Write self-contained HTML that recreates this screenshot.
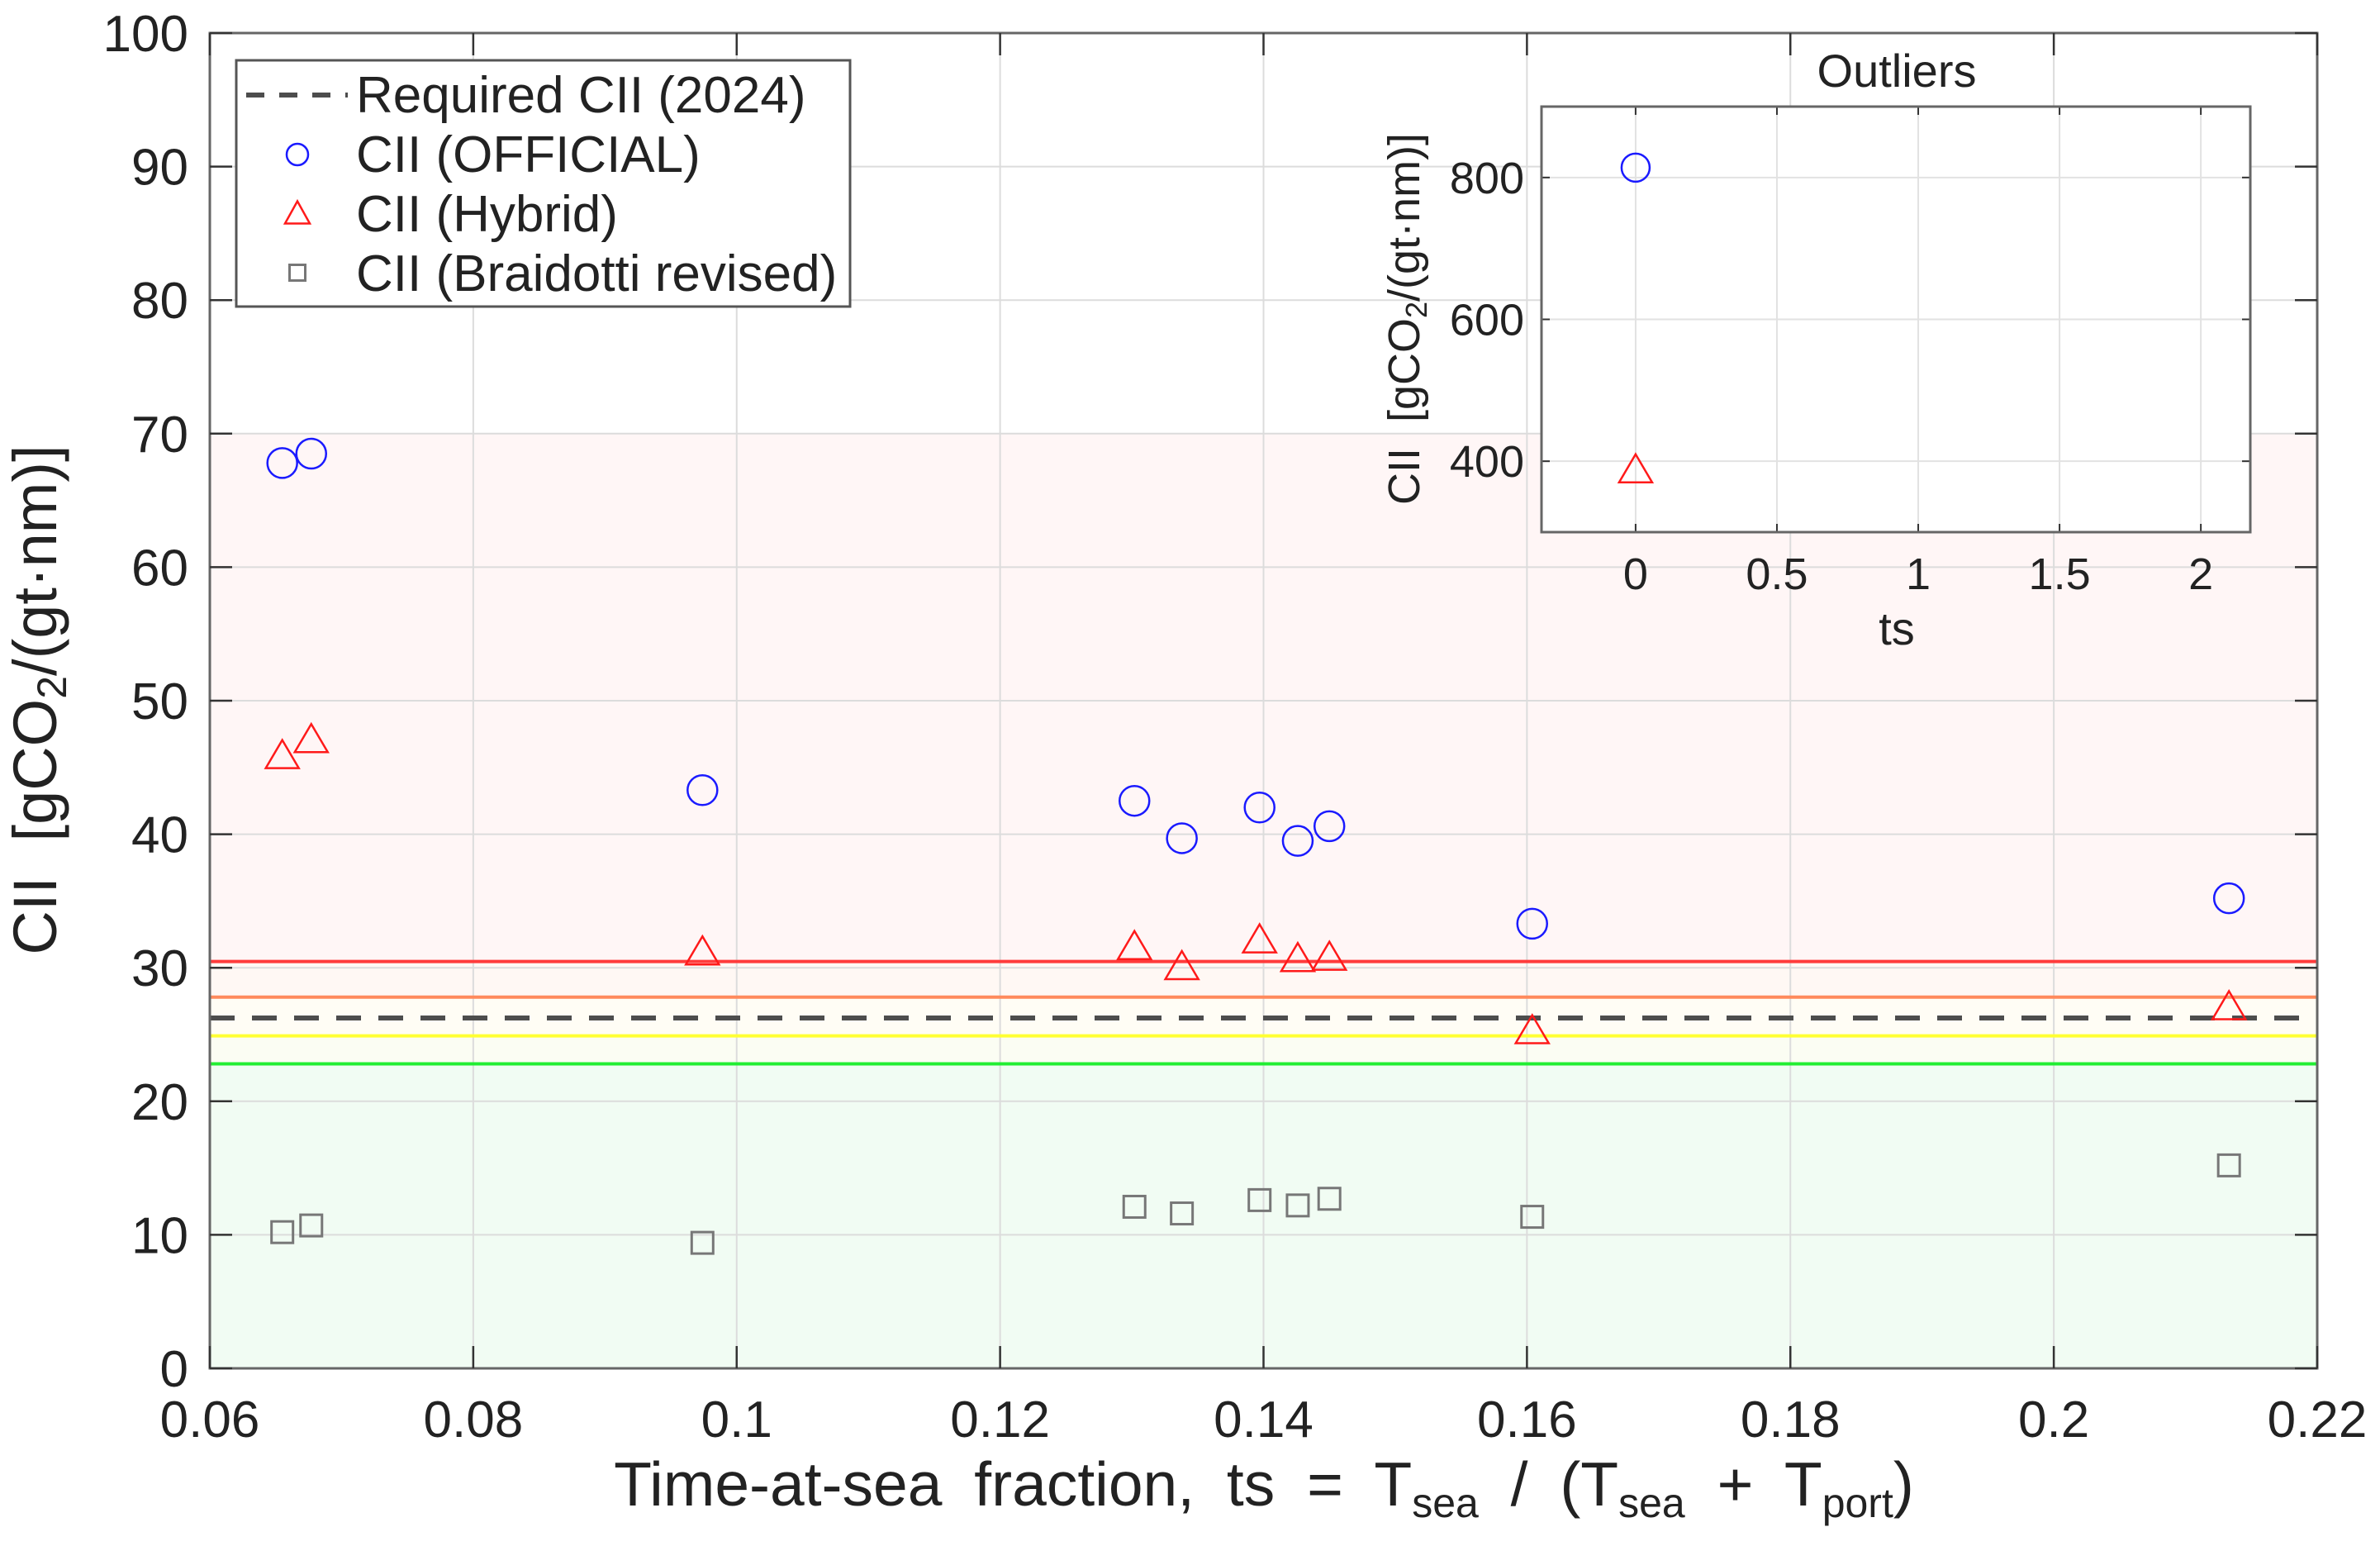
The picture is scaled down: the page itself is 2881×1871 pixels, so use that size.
<!DOCTYPE html>
<html><head><meta charset="utf-8">
<style>
html,body{margin:0;padding:0;background:#fff;}
svg{display:block;font-family:"Liberation Sans",Arial,sans-serif;}
</style></head>
<body>
<svg id="chart" width="2881" height="1871" viewBox="0 0 2881 1871" xmlns="http://www.w3.org/2000/svg">
<rect width="2881" height="1871" fill="#fff"/>
<g id="main"></g>
<g id="inset"></g>
</svg>
<script>
// ---- Main chart data ----
const tsValues = [0.0655, 0.0677, 0.0974, 0.1302, 0.1338, 0.1397, 0.1426, 0.1450, 0.1604, 0.2133];
const ciiOfficial = [67.8, 68.5, 43.3, 42.5, 39.7, 42.0, 39.5, 40.6, 33.3, 35.2];
const ciiHybrid = [46.0, 47.2, 31.3, 31.7, 30.2, 32.2, 30.8, 30.9, 25.4, 27.2];
const ciiBraidotti = [10.2, 10.7, 9.4, 12.1, 11.6, 12.6, 12.2, 12.7, 11.35, 15.2];
const ratingBoundaries = [22.8, 24.9, 27.8, 30.47];
const requiredCII = 26.24;
const xTicks = [0.06, 0.08, 0.1, 0.12, 0.14, 0.16, 0.18, 0.2, 0.22];
const xTickLabels = ["0.06","0.08","0.1","0.12","0.14","0.16","0.18","0.2","0.22"];
const yTicks = [0,10,20,30,40,50,60,70,80,90,100];
const yTickLabels = ["0","10","20","30","40","50","60","70","80","90","100"];
// ---- Inset data ----
const outlierTs = [0];
const outlierOfficial = [814];
const outlierHybrid = [390];
const insetXTicks = [0, 0.5, 1, 1.5, 2];
const insetXTickLabels = ["0","0.5","1","1.5","2"];
const insetYTicks = [400, 600, 800];
const insetYTickLabels = ["400","600","800"];

const NS = "http://www.w3.org/2000/svg";
function mk(parent, tag, attrs, text){
  const e = document.createElementNS(NS, tag);
  for (const k in attrs) e.setAttribute(k, attrs[k]);
  if (text !== undefined) e.textContent = text;
  parent.appendChild(e);
  return e;
}

// main axes
const L=254, R=2805, T=40, B=1656;
const X0=0.06, X1=0.22, Y0=0, Y1=100;
const sx = v => L + (v-X0)/(X1-X0)*(R-L);
const sy = v => B - (v-Y0)/(Y1-Y0)*(B-T);
const main = document.getElementById('main');

// zone fills
let z;
z = mk(main,'rect',{x:L,y:sy(70),width:R-L,height:sy(ratingBoundaries[3])-sy(70),fill:'#fff6f6'});
 
z = mk(main,'rect',{x:L,y:sy(ratingBoundaries[3]),width:R-L,height:sy(ratingBoundaries[2])-sy(ratingBoundaries[3]),fill:'#fff8f4'});
 
z = mk(main,'rect',{x:L,y:sy(ratingBoundaries[2]),width:R-L,height:sy(ratingBoundaries[1])-sy(ratingBoundaries[2]),fill:'#fffdf5'});
 
z = mk(main,'rect',{x:L,y:sy(ratingBoundaries[1]),width:R-L,height:sy(ratingBoundaries[0])-sy(ratingBoundaries[1]),fill:'#fbfdf3'});
 
z = mk(main,'rect',{x:L,y:sy(ratingBoundaries[0]),width:R-L,height:B-sy(ratingBoundaries[0]),fill:'#f1fcf3'});
 

// grid
xTicks.forEach((v,i)=>{
  const g = mk(main,'line',{x1:sx(v),x2:sx(v),y1:T,y2:B,stroke:'#dcdcdc','stroke-width':2});
   
});
yTicks.forEach((v,i)=>{
  const g = mk(main,'line',{x1:L,x2:R,y1:sy(v),y2:sy(v),stroke:'#dcdcdc','stroke-width':2});
   
});

// rating lines
const lineColors = ['#22ee33','#ffff33','#ff8a5c','#ff3b3b'];
const lineNames = ['boundary-a-b','boundary-b-c','boundary-c-d','boundary-d-e'];
ratingBoundaries.forEach((v,i)=>{
  const l = mk(main,'line',{x1:L,x2:R,y1:sy(v),y2:sy(v),stroke:lineColors[i],'stroke-width':4});
   
});
const req = mk(main,'line',{x1:L,x2:R,y1:sy(requiredCII),y2:sy(requiredCII),stroke:'#4d4d4d','stroke-width':6,'stroke-dasharray':'30 21'});
 

// axis box & ticks
const box = mk(main,'rect',{x:L,y:T,width:R-L,height:B-T,fill:'none',stroke:'#666','stroke-width':3});
 
xTicks.forEach((v,i)=>{
  const t1 = mk(main,'line',{x1:sx(v),x2:sx(v),y1:B,y2:B-27,stroke:'#333','stroke-width':2.5});
   
  const t2 = mk(main,'line',{x1:sx(v),x2:sx(v),y1:T,y2:T+27,stroke:'#333','stroke-width':2.5});
   
  const lb = mk(main,'text',{x:sx(v),y:B+83,'font-size':62,'text-anchor':'middle',fill:'#222'},xTickLabels[i]);
   
});
yTicks.forEach((v,i)=>{
  const t1 = mk(main,'line',{x1:L,x2:L+27,y1:sy(v),y2:sy(v),stroke:'#333','stroke-width':2.5});
   
  const t2 = mk(main,'line',{x1:R,x2:R-27,y1:sy(v),y2:sy(v),stroke:'#333','stroke-width':2.5});
   
  const lb = mk(main,'text',{x:228,y:sy(v)+22,'font-size':62,'text-anchor':'end',fill:'#222'},yTickLabels[i]);
   
});

// markers
function circle(parent, cx, cy, r, name){
  const c = mk(parent,'ellipse',{cx:cx,cy:cy,rx:r,ry:r,fill:'none',stroke:'#1a1aff','stroke-width':2.5});
   
}
function tri(parent, cx, cy, w, h, name){
  const p = mk(parent,'polygon',{points:`${cx},${cy-h/2} ${cx+w/2},${cy+h/2} ${cx-w/2},${cy+h/2}`,fill:'none',stroke:'#ff1a1a','stroke-width':2.5});
   
}
function sq(parent, cx, cy, s, name){
  const p = mk(parent,'rect',{x:cx-s/2,y:cy-s/2,width:s,height:s,fill:'none',stroke:'#777','stroke-width':3});
   
}
tsValues.forEach((t,i)=>{
  circle(main, sx(t), sy(ciiOfficial[i]), 18, 'official-point');
  tri(main, sx(t), sy(ciiHybrid[i]), 40, 34, 'hybrid-point');
  sq(main, sx(t), sy(ciiBraidotti[i]), 26, 'braidotti-point');
});

// axis titles
const xt = mk(main,'text',{x:1530,y:1822,'font-size':75,'text-anchor':'middle',fill:'#222','word-spacing':'18'});
 
xt.innerHTML = 'Time-at-sea fraction, ts = T<tspan font-size="50" dy="14">sea</tspan><tspan dy="-14"> / (T</tspan><tspan font-size="50" dy="14">sea</tspan><tspan dy="-14"> + T</tspan><tspan font-size="50" dy="14">port</tspan><tspan dy="-14">)</tspan>';
const yt = mk(main,'text',{x:0,y:0,'font-size':74,'text-anchor':'middle',fill:'#222','word-spacing':'22',transform:'translate(68,847) rotate(-90)'});
 
yt.innerHTML = 'CII [gCO<tspan font-size="50" dy="12">2</tspan><tspan dy="-12">/(gt·nm)]</tspan>';

// legend
const lg = mk(main,'g',{});
 
mk(lg,'rect',{x:286,y:73,width:743,height:298,fill:'#fff',stroke:'#555','stroke-width':3});
const le1 = mk(lg,'line',{x1:298,x2:421,y1:115,y2:115,stroke:'#4d4d4d','stroke-width':6,'stroke-dasharray':'22 18'});
 
circle(lg,360,187,13,'legend-official-marker');
tri(lg,360,257,30,27,'legend-hybrid-marker');
sq(lg,360,330,19,'legend-braidotti-marker');
const legTexts = ['Required CII (2024)','CII (OFFICIAL)','CII (Hybrid)','CII (Braidotti revised)'];
const legY = [136,208,280,352];
const legNames = ['legend-entry-required','legend-entry-official','legend-entry-hybrid','legend-entry-braidotti'];
legTexts.forEach((s,i)=>{
  const t = mk(lg,'text',{x:431,y:legY[i],'font-size':62,fill:'#222'},s);
   
});

// ---- inset ----
const inset = document.getElementById('inset');
const iL=1866, iR=2724, iT=129, iB=644;
const iX0=-0.333, iX1=2.175, iY0=300, iY1=900;
const isx = v => iL + (v-iX0)/(iX1-iX0)*(iR-iL);
const isy = v => iB - (v-iY0)/(iY1-iY0)*(iB-iT);
const ibg = mk(inset,'rect',{x:iL,y:iT,width:iR-iL,height:iB-iT,fill:'#fff'});
 
insetXTicks.forEach((v,i)=>{
  const g = mk(inset,'line',{x1:isx(v),x2:isx(v),y1:iT,y2:iB,stroke:'#e2e2e2','stroke-width':2});
   
  const t1 = mk(inset,'line',{x1:isx(v),x2:isx(v),y1:iB,y2:iB-10,stroke:'#333','stroke-width':2});
   
  const t2 = mk(inset,'line',{x1:isx(v),x2:isx(v),y1:iT,y2:iT+10,stroke:'#333','stroke-width':2});
   
  const lb = mk(inset,'text',{x:isx(v),y:713,'font-size':54,'text-anchor':'middle',fill:'#222'},insetXTickLabels[i]);
   
});
insetYTicks.forEach((v,i)=>{
  const g = mk(inset,'line',{x1:iL,x2:iR,y1:isy(v),y2:isy(v),stroke:'#e2e2e2','stroke-width':2});
   
  const t1 = mk(inset,'line',{x1:iL,x2:iL+10,y1:isy(v),y2:isy(v),stroke:'#333','stroke-width':2});
   
  const t2 = mk(inset,'line',{x1:iR,x2:iR-10,y1:isy(v),y2:isy(v),stroke:'#333','stroke-width':2});
   
  const lb = mk(inset,'text',{x:1845,y:isy(v)+19,'font-size':54,'text-anchor':'end',fill:'#222'},insetYTickLabels[i]);
   
});
const ibox = mk(inset,'rect',{x:iL,y:iT,width:iR-iL,height:iB-iT,fill:'none',stroke:'#666','stroke-width':3});
 
outlierTs.forEach((t,i)=>{
  circle(inset, isx(t), isy(outlierOfficial[i]), 17, 'inset-official-point');
  tri(inset, isx(t), isy(outlierHybrid[i]), 40, 34, 'inset-hybrid-point');
});
const ititle = mk(inset,'text',{x:2296,y:105,'font-size':56,'text-anchor':'middle',fill:'#222'},'Outliers');
 
const ixt = mk(inset,'text',{x:2296,y:780,'font-size':56,'text-anchor':'middle',fill:'#222'},'ts');
 
const iyt = mk(inset,'text',{x:0,y:0,'font-size':54,'text-anchor':'middle',fill:'#222','word-spacing':'16',transform:'translate(1718,386) rotate(-90)'});
 
iyt.innerHTML = 'CII [gCO<tspan font-size="36" dy="9">2</tspan><tspan dy="-9">/(gt·nm)]</tspan>';
</script>
</body></html>
